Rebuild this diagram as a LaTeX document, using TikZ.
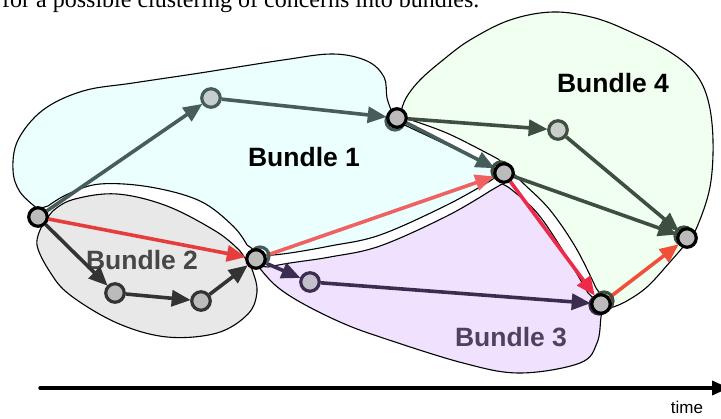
\documentclass[tikz,border=0pt]{standalone}
\usepackage{fontspec}
\setmainfont{Liberation Serif}
\newfontfamily\labelfont{Liberation Sans}
\usetikzlibrary{arrows.meta}

\definecolor{bundleA}{HTML}{EBFFFF}
\definecolor{bundleB}{HTML}{E8E8E8}
\definecolor{bundleC}{HTML}{F0E2FF}
\definecolor{bundleD}{HTML}{F0FFF0}
\definecolor{tealE}{HTML}{465D5C}
\definecolor{greenE}{HTML}{3E4F41}
\definecolor{purpleE}{HTML}{3B2D50}
\definecolor{grayE}{HTML}{333333}
\definecolor{redA}{HTML}{E63C3C}
\definecolor{redB}{HTML}{F06262}
\definecolor{redC}{HTML}{EE2A4A}
\definecolor{redD}{HTML}{F0503A}
\definecolor{nodegray}{HTML}{BBBBBB}

\pgfdeclarelayer{shapes}
\pgfdeclarelayer{flows}
\pgfsetlayers{shapes,flows,main}

\begin{document}
\begin{tikzpicture}[x=1pt,y=-1pt,
  bundle/.style={draw=black, line width=1.1pt, line join=round},
  bname/.style={font=\labelfont\bfseries\fontsize{26.5}{26.5}\selectfont, inner sep=0pt},
  evt/.style={circle, minimum size=18.5pt, inner sep=0pt, line width=3.2pt},
  shared/.style={evt, draw=black, fill=nodegray},
  ring/.style={line width=3.2pt},
  flow/.style={line width=3.6pt, -{Triangle[length=19pt,width=16pt]}, shorten >=-0.5pt},
]
\useasboundingbox (0,0) rectangle (721,419);
\clip (0,0) rectangle (721,419);

% caption line running over the top edge
\node[anchor=base west, inner sep=0pt, font=\fontsize{24}{24}\selectfont] (caption) at (2,7.5)
  {for a possible clustering of concerns into bundles.};

\begin{pgfonlayer}{shapes}
% Bundle 1
\path[bundle, fill=bundleA]
  plot[smooth, tension=0.6] coordinates {(38,209) (20,192) (13,170) (18,140) (43,110) (83,91) (133,83) (200,73) (283,60) (333,54) (367,61) (384,77) (387,98) (392,112)}
  -- plot[smooth, tension=0.6] coordinates {(398,122) (447,145) (488,165) (500,174)}
  -- plot[smooth, tension=0.6] coordinates {(490,181) (447,205) (380,235) (330,246) (290,253) (263,256)}
  -- plot[smooth, tension=0.6] coordinates {(247,245) (233,226) (200,201) (150,187) (100,184) (68,194) (48,206)}
  -- cycle;
% Bundle 4
\path[bundle, fill=bundleD]
  plot[smooth, tension=0.6] coordinates {(401,112) (406,98) (420,80) (443,60) (470,40) (510,20) (553,12) (595,18) (633,33) (670,52) (695,73) (708,100) (713,140) (710,187) (697,227) (687,242) (670,262) (647,287) (625,302) (610,308)}
  -- plot[smooth, tension=0.6] coordinates {(596,288) (576,248) (550,210) (524,184) (512,172)}
  -- plot[smooth, tension=0.6] coordinates {(498,159) (449,134) (408,119)}
  -- cycle;
% Bundle 3
\path[bundle, fill=bundleC]
  plot[smooth, tension=0.6] coordinates {(258,266) (275,285) (300,302) (340,322) (380,337) (463,363) (520,373) (580,363) (597,343) (601,317) (603,307)}
  -- plot[smooth, tension=0.6] coordinates {(588,293) (565,254) (538,214) (512,190) (502,184)}
  -- plot[smooth, tension=0.6] coordinates {(490,191) (447,216) (380,246) (330,257) (290,263) (268,267)}
  -- cycle;
% Bundle 2
\path[bundle, fill=bundleB]
  plot[smooth, tension=0.6] coordinates {(42,226) (37,245) (50,272) (70,295) (117,323) (167,337) (217,333) (248,314) (257,292) (253,272) (248,262)}
  -- plot[smooth, tension=0.6] coordinates {(240,251) (217,232) (167,206) (117,194) (75,199) (54,210) (44,224)}
  -- cycle;

% bundle names
\node[bname] (n1) at (304,157) {Bundle 1};
\node[bname, text=black!72] (n2) at (142,260) {Bundle 2};
\node[bname, text=purpleE!90] (n3) at (511,337) {Bundle 3};
\node[bname] (n4) at (613,83) {Bundle 4};
\end{pgfonlayer}

% event positions
\coordinate (pA) at (38,217);
\coordinate (pB) at (211,98);
\coordinate (pC) at (397,118);
\coordinate (pD) at (504,173);
\coordinate (pE) at (558,130);
\coordinate (pF) at (687,238);
\coordinate (pG) at (256,259);
\coordinate (pH) at (115,293);
\coordinate (pI) at (201,301);
\coordinate (pJ) at (310,282);
\coordinate (pK) at (601,304);

% secondary rings of shared events
\draw[ring, tealE] ([shift={(-2,3)}]pC) circle (9);
\draw[ring, greenE] ([shift={(-3,-2)}]pD) circle (9);
\draw[ring, greenE] ([shift={(-3,-2)}]pF) circle (9);
\draw[ring, tealE] ([shift={(4,-3)}]pG) circle (9);
\draw[ring, greenE] ([shift={(3,-3)}]pK) circle (9);
\draw[ring, purpleE] ([shift={(-2,1)}]pK) circle (9);

% events
\node[shared] (A) at (pA) {};
\node[evt, draw=tealE, fill=tealE!30!white] (B) at (pB) {};
\node[shared] (C) at (pC) {};
\node[shared] (D) at (pD) {};
\node[evt, draw=greenE, fill=greenE!28!white] (E) at (pE) {};
\node[shared] (F) at (pF) {};
\node[shared] (G) at (pG) {};
\node[evt, draw=grayE, fill=nodegray] (H) at (pH) {};
\node[evt, draw=grayE, fill=nodegray] (I) at (pI) {};
\node[evt, draw=purpleE, fill=purpleE!30!white] (J) at (pJ) {};
\node[shared] (K) at (pK) {};

% flows between events
\begin{pgfonlayer}{flows}
\draw[flow, tealE] (A) -- (B);
\draw[flow, tealE] (B) -- (C);
\draw[flow, tealE] (C) -- (D);
\draw[flow, redA] (A) -- (G);
\draw[flow, redB] (G) -- (D);
\draw[flow, grayE] (A) -- (H);
\draw[flow, grayE] (H) -- (I);
\draw[flow, grayE] (I) -- (G);
\draw[flow, purpleE] (G) -- (J);
\draw[flow, purpleE] (J) -- (K);
\draw[flow, redC] (D) -- (K);
\draw[flow, greenE] (C) -- (E);
\draw[flow, greenE] (E) -- (F);
\draw[flow, greenE] (D) -- (F);
\draw[flow, redD] (K) -- (F);
\end{pgfonlayer}

% time axis
\coordinate (t0) at (40,388);
\coordinate (t1) at (729,388);
\draw[line width=3.5pt, line cap=round, -{Triangle[length=17pt,width=14pt]}] (t0) -- (t1);
\node[font=\labelfont\fontsize{17}{17}\selectfont, inner sep=0pt, anchor=base] (tlabel) at (687,414) {time};
\end{tikzpicture}
\end{document}
